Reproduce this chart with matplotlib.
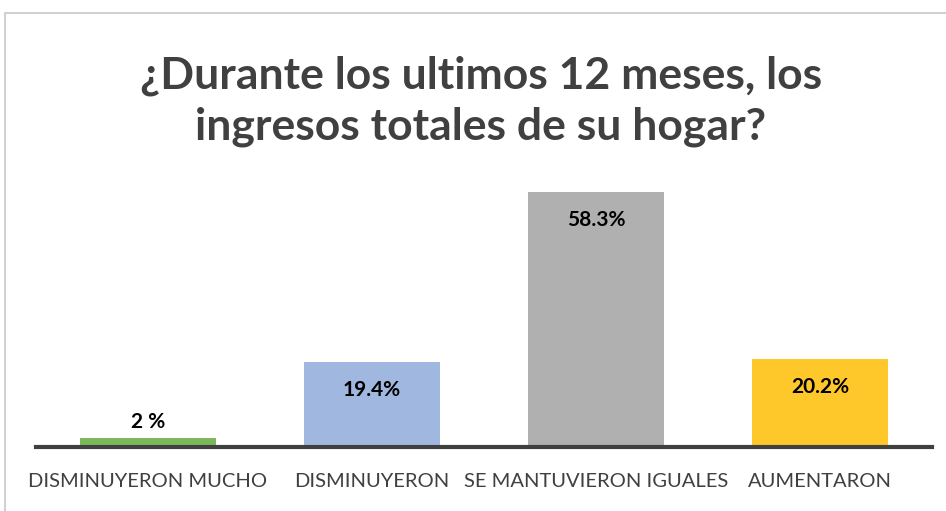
import matplotlib.pyplot as plt
from matplotlib.patches import Rectangle

categories = ['DISMINUYERON MUCHO', 'DISMINUYERON', 'SE MANTUVIERON IGUALES', 'AUMENTARON']
values = [2.0, 19.4, 58.3, 20.2]
labels = ['2 %', '19.4%', '58.3%', '20.2%']
colors = ['#7CB85A', '#A0B8E0', '#B0B0B0', '#FFC82A']

fig = plt.figure(figsize=(9.46, 5.11), dpi=100)
ax = fig.add_axes([36 / 946, 64 / 511, 896 / 946, 306 / 511])

x = range(len(categories))
ax.bar(x, values, width=0.607, color=colors, zorder=2)
ax.set_xlim(-0.5, 3.5)
ax.set_ylim(0, 70)

for i, (v, lab) in enumerate(zip(values, labels)):
    y = v - 6.4 if v > 5 else v + 3.7
    ax.text(i, y, lab, ha='center', va='center', fontsize=15, fontweight='bold',
            color='black', family='Lato')

# axis styling
for s in ['top', 'right', 'left']:
    ax.spines[s].set_visible(False)
ax.spines['bottom'].set_linewidth(3)
ax.spines['bottom'].set_color('#404040')
ax.spines['bottom'].set_zorder(3)
ax.set_yticks([])
ax.set_xticks(list(x))
ax.set_xticklabels(categories, fontsize=14.5, color='#404040', family='Lato')
ax.tick_params(axis='x', length=0, pad=19)

fig.text(0.508, 0.802, '¿Durante los ultimos 12 meses, los\ningresos totales de su hogar?',
         ha='center', va='center', fontsize=32, fontweight='bold', color='#404040',
         family='Lato', linespacing=1.3)

# outer chart border
fig.patches.append(Rectangle((5 / 946, -0.01), 1.0, (511 - 13) / 511 + 0.01,
                             transform=fig.transFigure, fill=False,
                             edgecolor='#C8C8C8', linewidth=1.2))

fig.savefig('out.png', dpi=100)
